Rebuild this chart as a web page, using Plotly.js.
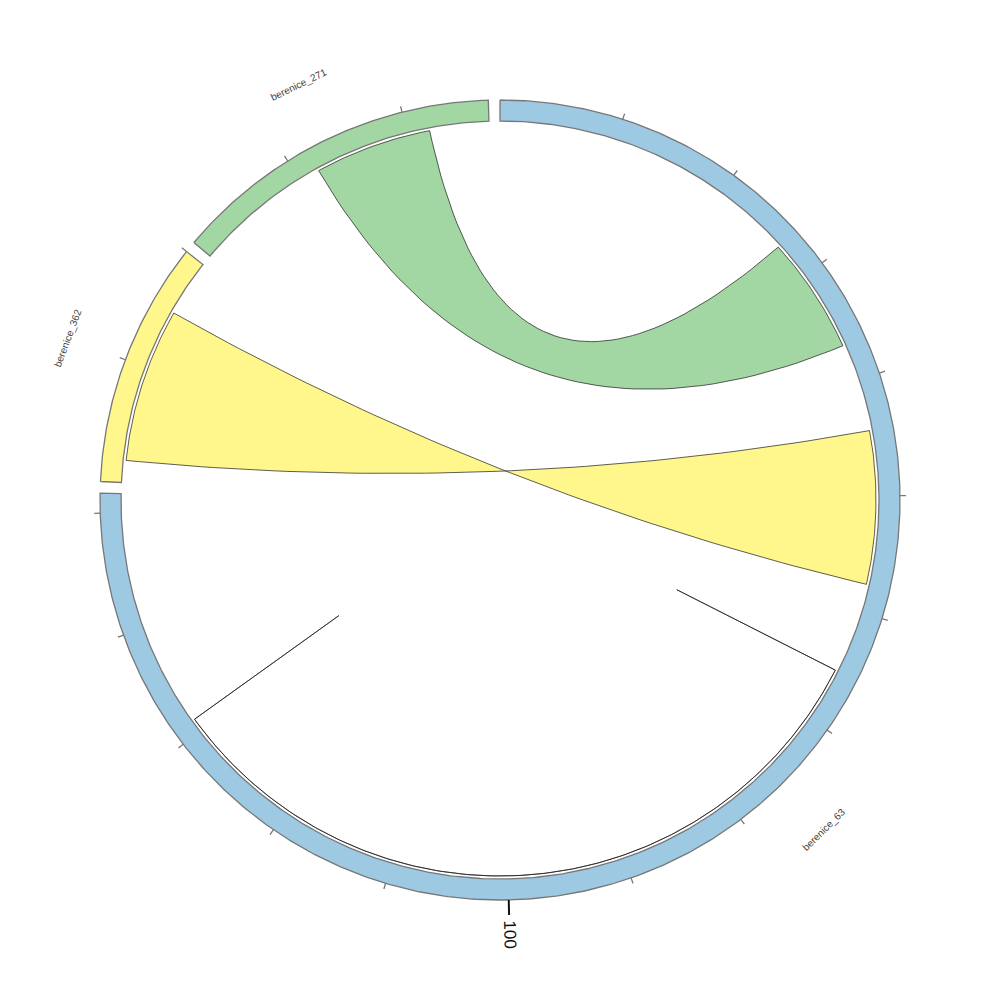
<!DOCTYPE html>
<html><head><meta charset="utf-8">
<script src="https://cdn.plot.ly/plotly-3.0.1.min.js"></script>
<style>html,body{margin:0;padding:0;background:#fff}</style>
</head><body><div id="chart" style="width:1000px;height:1000px"></div>
<script>
// ---- data ----
const sectorNames = ['berenice_63', 'berenice_362', 'berenice_271'];
const sectorLengths = [151.6, 20, 27];
const sectorColors = ['#9dc9e2', '#fff68c', '#a2d6a2'];

const linkSource = ['berenice_63', 'berenice_63', 'berenice_63'];
const linkSourceStart = [26.7, 44.4, 65.4];
const linkSourceEnd = [36.8, 57.6, 131.1];
const linkTarget = ['berenice_271', 'berenice_362', 'berenice_63'];
const linkTargetStart = [11.8, 15.2, 131.1];
const linkTargetEnd = [21.9, 1.9, 65.4];

const tickStep = 10;
const labelStep = 100;

// ---- layout constants ----
const R_OUT = 400, R_IN = 379, R_LINK = 376, GAP = 1.67, CTRL = 0.055;
const total = sectorLengths.reduce((a, b) => a + b, 0);
const k = (360 - GAP * sectorNames.length) / total;
const startAngle = {};
let acc = 0;
sectorNames.forEach((n, i) => { startAngle[n] = acc; acc += sectorLengths[i] * k + GAP; });
const ang = (name, v) => startAngle[name] + v * k;
const pt = (r, deg) => { const t = deg * Math.PI / 180; return [r * Math.sin(t), r * Math.cos(t)]; };
function arc(r, a0, a1) {
  const n = Math.max(2, Math.ceil(Math.abs(a1 - a0) / 0.5));
  const xs = [], ys = [];
  for (let i = 0; i <= n; i++) { const p = pt(r, a0 + (a1 - a0) * i / n); xs.push(p[0]); ys.push(p[1]); }
  return [xs, ys];
}
function bez(p0, p2) {
  const c = [CTRL * (p0[0] + p2[0]) / 2, CTRL * (p0[1] + p2[1]) / 2];
  const xs = [], ys = [];
  for (let i = 0; i <= 60; i++) { const t = i / 60; const a = (1 - t) * (1 - t), b = 2 * t * (1 - t), d = t * t;
    xs.push(a * p0[0] + b * c[0] + d * p2[0]); ys.push(a * p0[1] + b * c[1] + d * p2[1]); }
  return [xs, ys];
}

const traces = [];
// links
for (let i = 0; i < linkSource.length; i++) {
  const s0 = ang(linkSource[i], linkSourceStart[i]), s1 = ang(linkSource[i], linkSourceEnd[i]);
  const t0 = ang(linkTarget[i], linkTargetStart[i]), t1 = ang(linkTarget[i], linkTargetEnd[i]);
  const parts = [arc(R_LINK, s0, s1), bez(pt(R_LINK, s1), pt(R_LINK, t0)), arc(R_LINK, t0, t1), bez(pt(R_LINK, t1), pt(R_LINK, s0))];
  const xs = [], ys = [];
  parts.forEach(p => { xs.push(...p[0]); ys.push(...p[1]); });
  const col = sectorColors[sectorNames.indexOf(linkTarget[i])];
  traces.push({ type: 'scatter', mode: 'lines', x: xs, y: ys, fill: 'toself', fillcolor: col,
    line: { color: '#1a1a1a', width: 0.7 }, hoverinfo: 'skip' });
}
// sectors
const annotations = [];
sectorNames.forEach((n, i) => {
  const a0 = startAngle[n], a1 = ang(n, sectorLengths[i]);
  const o = arc(R_OUT, a0, a1), inn = arc(R_IN, a1, a0);
  traces.push({ type: 'scatter', mode: 'lines', x: [...o[0], ...inn[0], o[0][0]], y: [...o[1], ...inn[1], o[1][0]],
    fill: 'toself', fillcolor: sectorColors[i], line: { color: '#777', width: 1.3 }, hoverinfo: 'skip' });
  // ticks
  const tx = [], ty = [], mx = [], my = [];
  for (let v = tickStep; v <= sectorLengths[i] + 1e-9; v += tickStep) {
    const a = ang(n, v);
    if (Math.abs(v % labelStep) < 1e-9) {
      const p0 = pt(R_OUT, a), p1 = pt(R_OUT + 15, a);
      mx.push(p0[0], p1[0], null); my.push(p0[1], p1[1], null);
      const pl = pt(R_OUT + 34, a);
      annotations.push({ x: pl[0], y: pl[1], text: String(v), showarrow: false, textangle: a - 90,
        font: { family: 'Liberation Sans, Arial, sans-serif', size: 17, color: '#111' } });
    } else {
      const p0 = pt(R_OUT, a), p1 = pt(R_OUT + 6, a);
      tx.push(p0[0], p1[0], null); ty.push(p0[1], p1[1], null);
    }
  }
  traces.push({ type: 'scatter', mode: 'lines', x: tx, y: ty, line: { color: '#777', width: 1.3 }, hoverinfo: 'skip' });
  if (mx.length) traces.push({ type: 'scatter', mode: 'lines', x: mx, y: my, line: { color: '#111', width: 2 }, hoverinfo: 'skip' });
  // name label
  const mid = (a0 + a1) / 2;
  const pl = pt(462, mid);
  const ta = (mid > 90 && mid < 270) ? mid - 180 : (mid > 180 ? mid - 360 : mid);
  annotations.push({ x: pl[0], y: pl[1], text: n, showarrow: false, textangle: ta,
    font: { family: 'Liberation Sans, Arial, sans-serif', size: 10, color: '#444' } });
});

const layout = {
  width: 1000, height: 1000, margin: { l: 0, r: 0, t: 0, b: 0 },
  paper_bgcolor: '#fff', plot_bgcolor: '#fff', showlegend: false,
  xaxis: { range: [-500, 500], visible: false, fixedrange: true },
  yaxis: { range: [-500, 500], visible: false, fixedrange: true },
  annotations: annotations
};
Plotly.newPlot('chart', traces, layout, { displayModeBar: false, staticPlot: true });
</script></body></html>
